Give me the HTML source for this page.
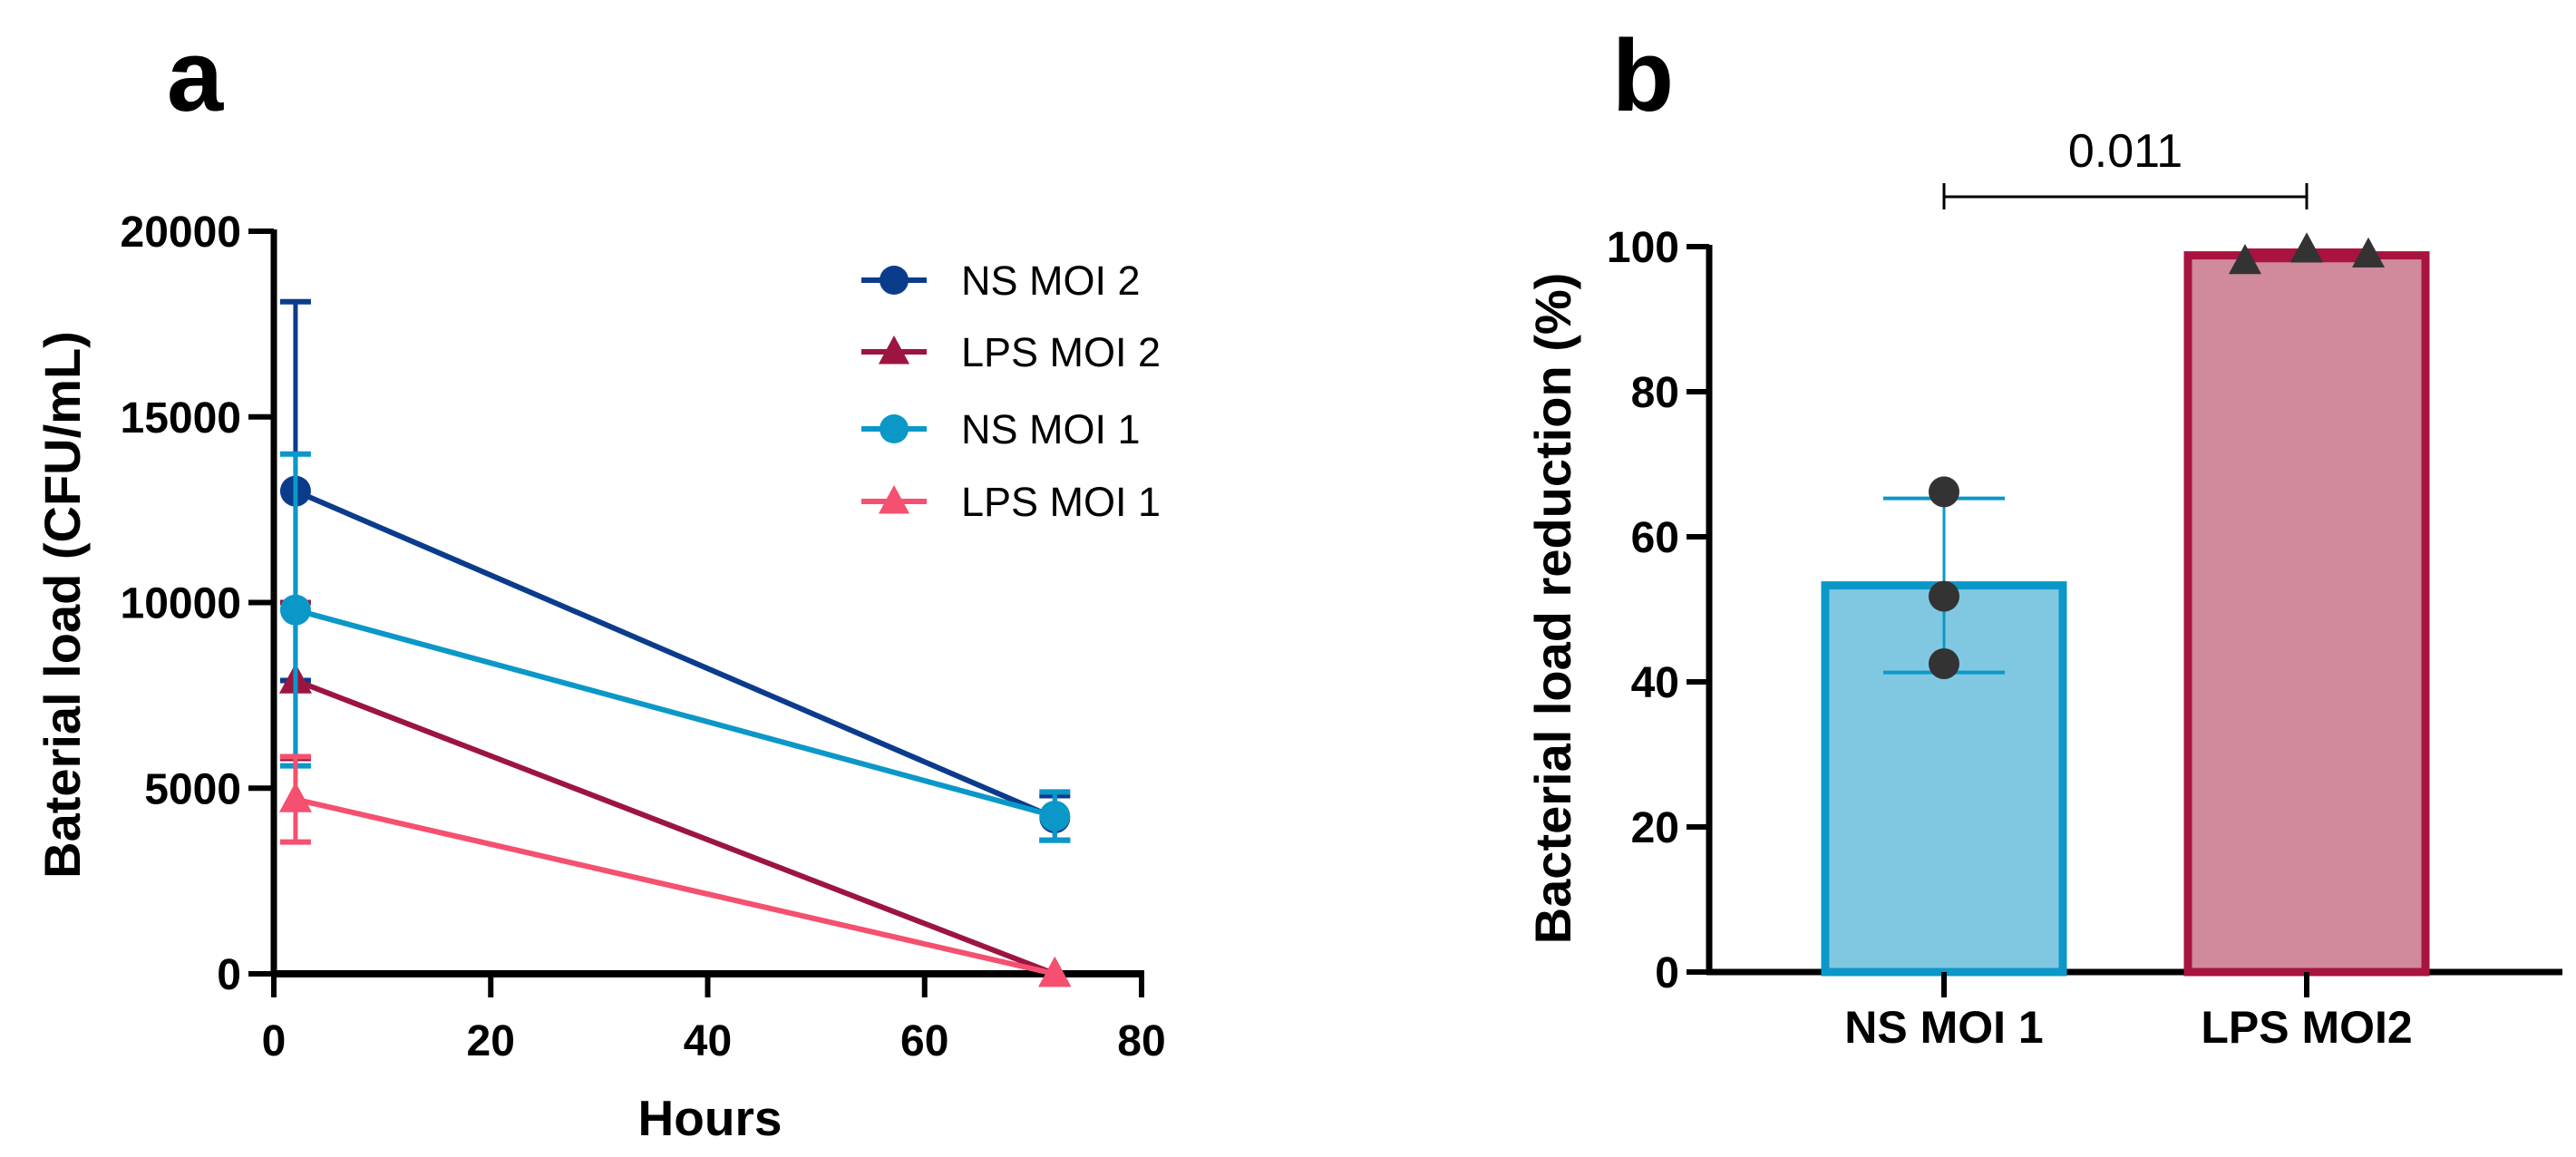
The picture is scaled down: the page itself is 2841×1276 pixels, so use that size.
<!DOCTYPE html>
<html><head><meta charset="utf-8"><style>
html,body{margin:0;padding:0;background:#fff;}
svg{display:block;font-family:"Liberation Sans",Arial,sans-serif;}
</style></head><body>
<svg id="fig" width="2841" height="1276" viewBox="0 0 2841 1276" xmlns="http://www.w3.org/2000/svg">
<g id="pa"></g>
<g id="pb"></g>
</svg>
<script>
// ---- Panel a data ----
const hours = [2, 72];
const seriesNames = ["NS MOI 2", "LPS MOI 2", "NS MOI 1", "LPS MOI 1"];
const nsMoi2 = [13000, 4200];
const nsMoi2Err = [5100, 600];
const lpsMoi2 = [7900, 0];
const lpsMoi2Err = [2100, 0];
const nsMoi1 = [9800, 4250];
const nsMoi1Err = [4200, 650];
const lpsMoi1 = [4700, 0];
const lpsMoi1Err = [1150, 0];
const yTicksA = [0, 5000, 10000, 15000, 20000];
const xTicksA = [0, 20, 40, 60, 80];
// ---- Panel b data ----
const categoriesB = ["NS MOI 1", "LPS MOI2"];
const barMeans = [53.3, 98.8];
const barSd = [12, 0.7];
const nsPoints = [66.2, 51.8, 42.5];
const lpsPoints = [98.0, 99.6, 98.9];
const yTicksB = [0, 20, 40, 60, 80, 100];
const pLabel = "0.011";

const NS = "http://www.w3.org/2000/svg";
function mk(parent, tag, attrs, name, text){
  const e = document.createElementNS(NS, tag);
  for (const k in attrs) e.setAttribute(k, attrs[k]);
  
  
  if (text !== undefined) e.textContent = text;
  parent.appendChild(e);
  return e;
}
function tri(cx, cy, s){ return `${cx},${cy-s} ${cx+s*0.95},${cy+s*0.75} ${cx-s*0.95},${cy+s*0.75}`; }

// ---- Panel a ----
const pa = document.getElementById('pa');
const ax = v => 302 + (v/80)*(1259-302);
const ay = v => 1074 - (v/20000)*(1074-255);
mk(pa,'text',{x:215,y:122,'font-size':112,'font-weight':'bold','text-anchor':'middle'},'panel-a-label','a');
mk(pa,'line',{x1:302,y1:ay(20000)-2,x2:302,y2:1077,stroke:'#000','stroke-width':7},'y-axis-a');
mk(pa,'line',{x1:299,y1:1074,x2:1262,y2:1074,stroke:'#000','stroke-width':8},'x-axis-a');
yTicksA.forEach(t=>{
  mk(pa,'line',{x1:274,y1:ay(t),x2:302,y2:ay(t),stroke:'#000','stroke-width':6},'y-tick-a');
  mk(pa,'text',{x:266,y:ay(t)+17,'font-size':48,'font-weight':'bold','text-anchor':'end'},'y-tick-label-a',t);
});
xTicksA.forEach(t=>{
  mk(pa,'line',{x1:ax(t),y1:1074,x2:ax(t),y2:1100,stroke:'#000','stroke-width':6},'x-tick-a');
  mk(pa,'text',{x:ax(t),y:1164,'font-size':48,'font-weight':'bold','text-anchor':'middle'},'x-tick-label-a',t);
});
mk(pa,'text',{x:783,y:1252,'font-size':55,'font-weight':'bold','text-anchor':'middle'},'x-axis-title-a','Hours');
mk(pa,'text',{x:0,y:0,'font-size':56,'font-weight':'bold','text-anchor':'middle',transform:'translate(88,667) rotate(-90)'},'y-axis-title-a','Baterial load (CFU/mL)');

const series = [
  {vals:nsMoi2, err:nsMoi2Err, color:'#0b3c8c', mark:'circle', key:'ns-moi-2'},
  {vals:lpsMoi2, err:lpsMoi2Err, color:'#9c1540', mark:'tri', key:'lps-moi-2'},
  {vals:nsMoi1, err:nsMoi1Err, color:'#0b98c8', mark:'circle', key:'ns-moi-1'},
  {vals:lpsMoi1, err:lpsMoi1Err, color:'#f5506f', mark:'tri', key:'lps-moi-1'}
];
series.forEach(s=>{
  const g = mk(pa,'g',{},'series-'+s.key);
  mk(g,'line',{x1:ax(hours[0]),y1:ay(s.vals[0]),x2:ax(hours[1]),y2:ay(s.vals[1]),stroke:s.color,'stroke-width':6},'line-'+s.key);
  hours.forEach((h,i)=>{
    const x = ax(h), v=s.vals[i], e=s.err[i];
    if (e>0){
      mk(g,'line',{x1:x,y1:ay(v+e),x2:x,y2:ay(v-e),stroke:s.color,'stroke-width':5},'error-bar-'+s.key);
      mk(g,'line',{x1:x-17,y1:ay(v+e),x2:x+17,y2:ay(v+e),stroke:s.color,'stroke-width':6},'error-cap-'+s.key);
      mk(g,'line',{x1:x-17,y1:ay(v-e),x2:x+17,y2:ay(v-e),stroke:s.color,'stroke-width':6},'error-cap-'+s.key);
    }
    if (s.mark==='circle') mk(g,'circle',{cx:x,cy:ay(v),r:17,fill:s.color},'point-'+s.key);
    else mk(g,'polygon',{points:tri(x,ay(v),19),fill:s.color},'point-'+s.key);
  });
});
// legend
const lg = mk(pa,'g',{},'legend-a');
const legY = [309, 388, 473, 553];
series.forEach((s,i)=>{
  const y = legY[i];
  mk(lg,'line',{x1:950,y1:y,x2:1022,y2:y,stroke:s.color,'stroke-width':6},'legend-line-'+s.key);
  if (s.mark==='circle') mk(lg,'circle',{cx:986,cy:y,r:16,fill:s.color},'legend-marker-'+s.key);
  else mk(lg,'polygon',{points:tri(986,y,18),fill:s.color},'legend-marker-'+s.key);
  mk(lg,'text',{x:1060,y:y+16,'font-size':45},'legend-label-'+s.key,seriesNames[i]);
});

// ---- Panel b ----
const pb = document.getElementById('pb');
const by = v => 1072 - (v/100)*(1072-272);
const bx = [2144, 2544];
const bw = 262;
mk(pb,'text',{x:1812,y:122,'font-size':112,'font-weight':'bold','text-anchor':'middle'},'panel-b-label','b');
mk(pb,'line',{x1:1885,y1:by(100)-2,x2:1885,y2:1075,stroke:'#000','stroke-width':7},'y-axis-b');
mk(pb,'line',{x1:1882,y1:1072,x2:2826,y2:1072,stroke:'#000','stroke-width':7},'x-axis-b');
yTicksB.forEach(t=>{
  mk(pb,'line',{x1:1860,y1:by(t),x2:1885,y2:by(t),stroke:'#000','stroke-width':6},'y-tick-b');
  mk(pb,'text',{x:1852,y:by(t)+17,'font-size':48,'font-weight':'bold','text-anchor':'end'},'y-tick-label-b',t);
});
mk(pb,'text',{x:0,y:0,'font-size':56,'font-weight':'bold','text-anchor':'middle',transform:'translate(1732,671) rotate(-90)'},'y-axis-title-b','Bacterial load reduction (%)');
const fills = ['#80c8e2','#d08a9c'], strokes = ['#0b98c8','#a8143f'];
categoriesB.forEach((c,i)=>{
  const x = bx[i];
  mk(pb,'rect',{x:x-bw/2,y:by(barMeans[i]),width:bw,height:by(0)-by(barMeans[i]),fill:fills[i],stroke:strokes[i],'stroke-width':9},'bar-'+(i?'lps-moi2':'ns-moi-1'));
  mk(pb,'line',{x1:x,y1:1072,x2:x,y2:1100,stroke:'#000','stroke-width':6},'x-tick-b');
  mk(pb,'text',{x:x,y:1150,'font-size':50,'font-weight':'bold','text-anchor':'middle'},'category-label',c);
  const up = by(barMeans[i]+barSd[i]), lo = by(barMeans[i]-barSd[i]);
  mk(pb,'line',{x1:x,y1:up,x2:x,y2:lo,stroke:strokes[i],'stroke-width':3},'bar-error');
  mk(pb,'line',{x1:x-67,y1:up,x2:x+67,y2:up,stroke:strokes[i],'stroke-width':4},'bar-error-cap');
  mk(pb,'line',{x1:x-67,y1:lo,x2:x+67,y2:lo,stroke:strokes[i],'stroke-width':4},'bar-error-cap');
});
nsPoints.forEach(v=>{ mk(pb,'circle',{cx:bx[0],cy:by(v),r:17,fill:'#333'},'ns-moi-1-point'); });
const off = [-68, 0, 68];
lpsPoints.forEach((v,i)=>{ mk(pb,'polygon',{points:tri(bx[1]+off[i],by(v),19),fill:'#333'},'lps-moi2-point'); });
// significance bracket
mk(pb,'line',{x1:bx[0],y1:217,x2:bx[1],y2:217,stroke:'#000','stroke-width':3},'significance-bracket');
mk(pb,'line',{x1:bx[0],y1:202,x2:bx[0],y2:231,stroke:'#000','stroke-width':3},'significance-bracket-end');
mk(pb,'line',{x1:bx[1],y1:202,x2:bx[1],y2:231,stroke:'#000','stroke-width':3},'significance-bracket-end');
mk(pb,'text',{x:(bx[0]+bx[1])/2,y:184,'font-size':52,'text-anchor':'middle'},'p-value-label',pLabel);
</script>
</body></html>
